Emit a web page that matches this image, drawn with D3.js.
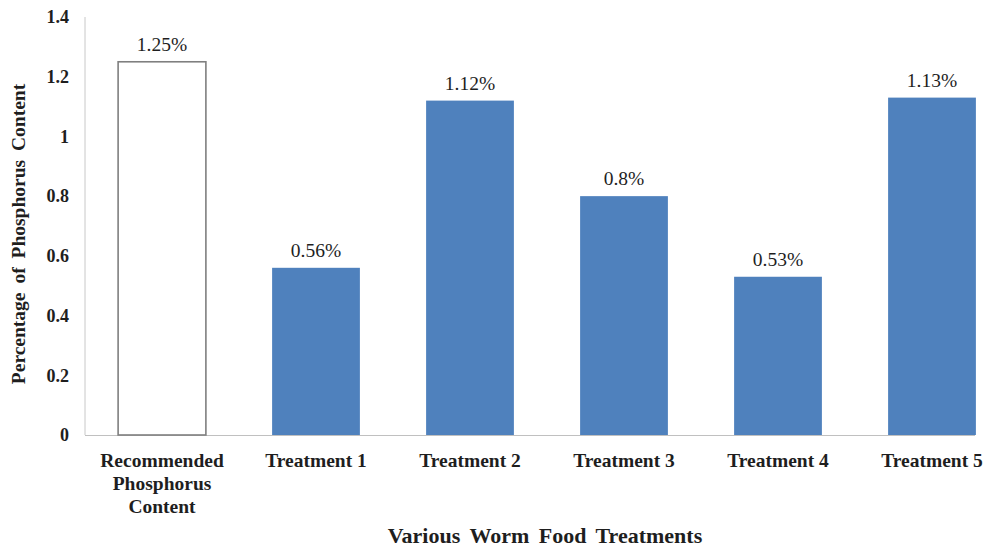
<!DOCTYPE html>
<html>
<head>
<meta charset="utf-8">
<script src="https://cdn.jsdelivr.net/npm/d3@7"></script>
<style>
  html, body { margin: 0; padding: 0; background: #fff; }
  svg { display: block; }
</style>
</head>
<body>
<svg id="chart" width="1001" height="552"></svg>
<script>
// Phosphorus content per worm food treatment
const categories = [
  ["Recommended", "Phosphorus", "Content"],
  ["Treatment 1"],
  ["Treatment 2"],
  ["Treatment 3"],
  ["Treatment 4"],
  ["Treatment 5"]
];
const values = [1.25, 0.56, 1.12, 0.8, 0.53, 1.13];
const valueLabels = ["1.25%", "0.56%", "1.12%", "0.8%", "0.53%", "1.13%"];
const yTicks = [0, 0.2, 0.4, 0.6, 0.8, 1, 1.2, 1.4];

const FONT = "'Liberation Serif', 'DejaVu Serif', serif";
const INK = "#1e1e1e";

const svg = d3.select("#chart")
  .attr("font-family", FONT);
const plotLeft = 85, plotRight = 1009, plotTop = 17, plotBottom = 435;

const x = d3.scaleBand()
  .domain(d3.range(categories.length))
  .range([plotLeft, plotRight])
  .paddingInner(0.43)
  .paddingOuter(0.215);

const y = d3.scaleLinear().domain([0, 1.4]).range([plotBottom, plotTop]);

// y axis line
svg.append("line")
  .attr("x1", plotLeft).attr("x2", plotLeft)
  .attr("y1", y(1.4)).attr("y2", plotBottom)
  .attr("stroke", "#c8c8c8").attr("stroke-width", 1);

// baseline
svg.append("line")
  .attr("x1", plotLeft).attr("x2", 975)
  .attr("y1", plotBottom + 0.5).attr("y2", plotBottom + 0.5)
  .attr("stroke", "#c0c0c0").attr("stroke-width", 1.2);

// y tick labels
svg.append("g").selectAll("text")
  .data(yTicks)
  .join("text")
  .attr("x", 69)
  .attr("y", d => y(d))
  .attr("dy", "0.35em")
  .attr("text-anchor", "end")
  .attr("font-family", FONT)
  .attr("font-weight", "bold")
  .attr("font-size", 18)
  .attr("fill", INK)
  .text(d => d3.format("~g")(d));

// bars
svg.append("g").selectAll("rect")
  .data(values)
  .join("rect")
  .attr("x", (d, i) => x(i))
  .attr("y", d => y(d))
  .attr("width", x.bandwidth())
  .attr("height", d => plotBottom - y(d))
  .attr("fill", (d, i) => i === 0 ? "#ffffff" : "#4f81bd")
  .attr("stroke", (d, i) => i === 0 ? "#7f7f7f" : "none")
  .attr("stroke-width", 1.6);

// value labels
svg.append("g").selectAll("text")
  .data(values)
  .join("text")
  .attr("x", (d, i) => x(i) + x.bandwidth() / 2)
  .attr("y", d => y(d) - 11)
  .attr("text-anchor", "middle")
  .attr("font-family", FONT)
  .attr("font-size", 19.5)
  .attr("fill", INK)
  .text((d, i) => valueLabels[i]);

// category labels
const cat = svg.append("g").selectAll("text")
  .data(categories)
  .join("text")
  .attr("x", (d, i) => x(i) + x.bandwidth() / 2)
  .attr("y", 467)
  .attr("text-anchor", "middle")
  .attr("font-family", FONT)
  .attr("font-weight", "bold")
  .attr("font-size", 19.5)
  .attr("fill", INK);
cat.selectAll("tspan")
  .data(d => d)
  .join("tspan")
  .attr("x", function() { return d3.select(this.parentNode).attr("x"); })
  .attr("dy", (d, j) => j === 0 ? 0 : 23)
  .text(d => d);

// axis titles
svg.append("text")
  .attr("x", 545).attr("y", 543)
  .attr("text-anchor", "middle")
  .attr("font-family", FONT)
  .attr("font-weight", "bold")
  .attr("font-size", 22)
  .attr("word-spacing", 4)
  .attr("fill", INK)
  .text("Various Worm Food Treatments");

svg.append("text")
  .attr("transform", "translate(25,234) rotate(-90)")
  .attr("text-anchor", "middle")
  .attr("font-family", FONT)
  .attr("font-weight", "bold")
  .attr("font-size", 19.5)
  .attr("word-spacing", 4)
  .attr("fill", INK)
  .text("Percentage of Phosphorus Content");
</script>
</body>
</html>
